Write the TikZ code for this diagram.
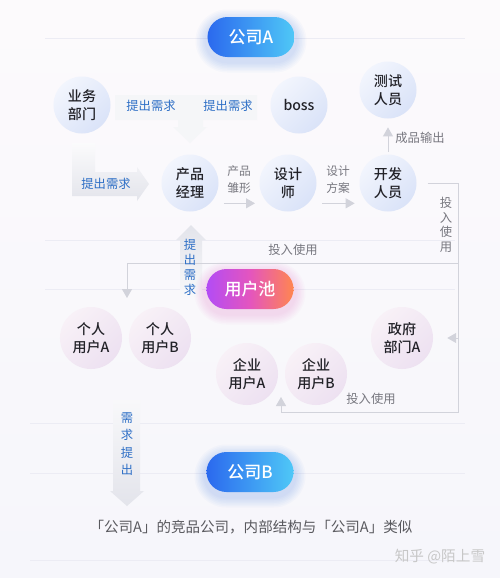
\documentclass[tikz,border=0pt]{standalone}
\usepackage{fontspec}
\setmainfont{Noto Sans CJK SC}
\IfFontExistsTF{Noto Sans CJK SC Medium}
  {\newfontfamily\midfont{Noto Sans CJK SC Medium}}
  {\newcommand{\midfont}{\normalfont}}
\usepackage{tikz}
\usetikzlibrary{arrows.meta}

\definecolor{bgtop}{HTML}{FCFAFC}
\definecolor{bgbot}{HTML}{F6F6FB}
\definecolor{faint}{HTML}{ECECF4}
\definecolor{fatgray}{HTML}{E3E4EB}
\definecolor{linegray}{HTML}{D2D3DB}
\definecolor{labelblue}{HTML}{2E6FC6}
\definecolor{labelgray}{HTML}{77777F}
\definecolor{ink}{HTML}{222228}
\definecolor{bubbleA}{HTML}{F2F5FD}
\definecolor{bubbleB}{HTML}{DAE3F8}
\definecolor{userA}{HTML}{F8F1F7}
\definecolor{userB}{HTML}{EDE1F1}
\definecolor{blueL}{HTML}{2B69EE}
\definecolor{blueR}{HTML}{4FC8F7}
\definecolor{poolL}{HTML}{B34CF5}
\definecolor{poolM}{HTML}{E455BE}
\definecolor{poolR}{HTML}{FF8650}

\tikzset{
  bubble/.style={circle, minimum size=1.71cm, inner sep=0pt, align=center,
    left color=bubbleA, right color=bubbleB, shading angle=45,
    text=ink, font=\midfont\fontsize{12}{15.5}\selectfont},
  userbubble/.style={bubble, minimum size=1.86cm,
    left color=userA, right color=userB, shading angle=45},
  pill/.style={rectangle, rounded corners=0.6cm, minimum width=2.61cm,
    minimum height=1.2cm, text=white, font=\midfont\fontsize{14.5}{16}\selectfont},
  bluelabel/.style={text=labelblue, align=center, inner sep=0pt,
    font=\fontsize{10.5}{12.8}\selectfont},
  graylabel/.style={text=labelgray, align=center, inner sep=0pt,
    font=\fontsize{10}{14.5}\selectfont},
  link/.style={draw=linegray, line width=0.8pt,
    -{Triangle[length=0.27cm, width=0.3cm, color=linegray]}},
}

% halo autour des pastilles : x, y, couleur
\newcommand{\halo}[3]{%
  \foreach \g in {1,...,7}
    \fill[#3, opacity=0.028, rounded corners=18pt+1.3pt*\g]
      (#1-45-1.5*\g, #2-17-1.5*\g) rectangle (#1+45+1.5*\g, #2+25+1.5*\g);
}

\begin{document}
\begin{tikzpicture}[x=0.03cm, y=-0.03cm]
  % Fond
  \useasboundingbox (0,0) rectangle (500,578);
  \shade[top color=bgtop, bottom color=bgbot] (0,0) rectangle (500,578);
  \foreach \ly/\la/\lb in {38/45/465, 240/45/455, 289/45/455, 423/30/465, 473/30/465, 560/30/465}
    \draw[faint, line width=0.6pt] (\la,\ly) -- (\lb,\ly);

  % Grosses flèches
  \shade[left color=fatgray!35, middle color=fatgray, right color=fatgray!35]
    (115,95) -- (257,95) -- (257,120) -- (203,120) -- (203,127) -- (207,127)
    -- (190,143) -- (173,127) -- (178,127) -- (178,120) -- (115,120) -- cycle;
  \shade[top color=fatgray!15, bottom color=fatgray]
    (72,143) -- (95,143) -- (95,172) -- (137,172) -- (137,167) -- (149,184)
    -- (137,201) -- (137,196) -- (72,196) -- cycle;
  \shade[top color=fatgray, bottom color=fatgray!25]
    (180,296) -- (180,240) -- (176,240) -- (191,225) -- (206,240) -- (202,240)
    -- (202,296) -- cycle;
  \shade[top color=fatgray!25, bottom color=fatgray]
    (113,400) -- (140,400) -- (140,491) -- (144,491) -- (127,506) -- (110,491)
    -- (113,491) -- cycle;

  % Halos
  \halo{251}{37}{blueL}
  \halo{250}{289}{poolM}
  \halo{250}{472}{blueL}

  % Entreprise A
  \node[pill, left color=blueL, right color=blueR] (coA) at (251,37) {公司A};
  \node[bubble] (biz) at (82,105) {业务\\部门};
  \node[bubble] (boss) at (299,105) {boss};
  \node[bubble] (test) at (388,90) {测试\\人员};
  \node[bubble] (pm) at (190,183) {产品\\经理};
  \node[bubble] (des) at (288,183) {设计\\师};
  \node[bubble] (dev) at (388,183) {开发\\人员};

  % Utilisateurs
  \node[pill, left color=poolL, right color=poolR, middle color=poolM] (pool) at (250,289) {用户池};
  \node[userbubble] (pA) at (91,338) {个人\\用户A};
  \node[userbubble] (pB) at (160,338) {个人\\用户B};
  \node[userbubble] (eA) at (247,374) {企业\\用户A};
  \node[userbubble] (eB) at (316,374) {企业\\用户B};
  \node[userbubble] (gov) at (402,338) {政府\\部门A};

  % Entreprise B
  \node[pill, left color=blueL, right color=blueR] (coB) at (250,472) {公司B};

  % Flèches fines
  \draw[link, shorten <=0.41cm, shorten >=0.38cm] (pm.-45) -- (des.-135);
  \draw[link, shorten <=0.42cm, shorten >=0.39cm] (des.-45) -- (dev.-135);
  \draw[link, shorten <=0.07cm, shorten >=0.26cm] (dev.north) -- (test.south);
  \coordinate (drop) at (281,397);
  \coordinate (userin) at (127,298);
  \draw[link, shorten <=0.33cm] (dev.east) -| (458,412) -| (drop);
  \draw[link] (458,263) -| (userin);
  \draw[link, shorten >=0.42cm] (458,338) -- (gov.east);

  % Textes
  \node[bluelabel] (askL) at (151,106) {提出需求};
  \node[bluelabel] (askR) at (228,106) {提出需求};
  \node[bluelabel] (askBiz) at (106,184) {提出需求};
  \node[bluelabel] (askUp) at (190,267) {提\\出\\需\\求};
  \node[bluelabel, font=\fontsize{10.5}{15}\selectfont] (askDown) at (127,444) {需\\求\\提\\出};
  \node[graylabel] (proto) at (239,180) {产品\\雏形};
  \node[graylabel] (plan) at (338,180) {设计\\方案};
  \node[graylabel, font=\fontsize{10.5}{12}\selectfont] (out) at (420,138) {成品输出};
  \node[graylabel, font=\fontsize{10.5}{12}\selectfont] (useA) at (293,250) {投入使用};
  \node[graylabel, font=\fontsize{10.5}{12.5}\selectfont] (useB) at (446,225) {投\\入\\使\\用};
  \node[graylabel, font=\fontsize{10.5}{12}\selectfont] (useC) at (371,399) {投入使用};
  \node[text=ink!75, font=\fontsize{12.4}{14}\selectfont] (caption) at (251,527)
    {「公司A」的竞品公司，内部结构与「公司A」类似};
  \node[text=black!22, font=\fontsize{12.5}{14}\selectfont] (mark) at (440,557) {知乎 @陌上雪};
\end{tikzpicture}
\end{document}
